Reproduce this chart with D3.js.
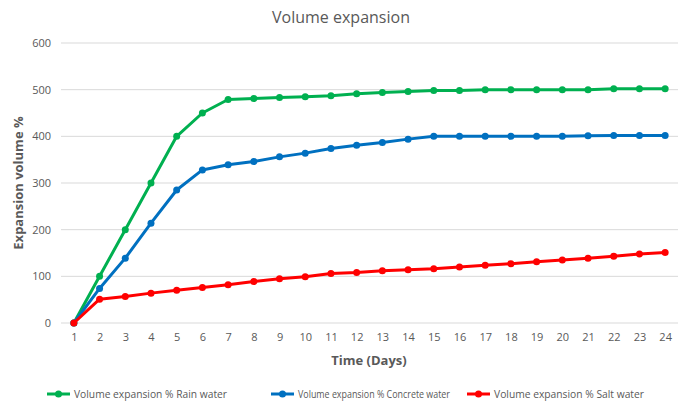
<!DOCTYPE html>
<html><head><meta charset="utf-8">
<script src="https://cdn.jsdelivr.net/npm/d3@7"></script>
<style>body{margin:0;background:#fff;} svg{display:block;}</style>
</head><body>
<svg id="c" width="681" height="403"></svg>
<script>
const days = d3.range(1, 25);
const rainWater = [0,100,200,300,400,450,479,481,483,485,487,491,494,496,498,498,500,500,500,500,500,502,502,502];
const concreteWater = [0,74,139,214,285,328,339,346,356,364,374,381,387,394,400,400,400,400,400,400,401,402,402,402];
const saltWater = [0,51,57,64,70,76,82,89,95,99,106,108,112,114,116,120,124,127,131,135,139,143,148,151];
const yTicks = [0,100,200,300,400,500,600];
const seriesNames = ["Volume expansion % Rain water","Volume expansion % Concrete water","Volume expansion % Salt water"];
const colors = ["#00B050","#0070C0","#FF0000"];

const svg = d3.select("#c");
const font = "'Open Sans', sans-serif";
const L = 61, R = 678, T = 43, B = 323;
const x = d3.scalePoint().domain(days).range([L, R]).padding(0.5);
const y = d3.scaleLinear().domain([0, 600]).range([B, T]);

svg.append("text").attr("x", 341).attr("y", 23).attr("text-anchor","middle")
  .attr("font-family", font).attr("font-size", 16).attr("fill", "#595959").text("Volume expansion");

// grid
svg.append("g").selectAll("line").data(yTicks).join("line")
  .attr("x1", L).attr("x2", R).attr("y1", d=>y(d)).attr("y2", d=>y(d))
  .attr("stroke", "#d9d9d9").attr("stroke-width", 1);

// y axis
const ya = svg.append("g").attr("transform", `translate(${L},0)`)
  .call(d3.axisLeft(y).tickValues(yTicks).tickSize(0).tickPadding(10));
ya.select(".domain").remove();
ya.selectAll("text").attr("font-family", font).attr("font-size", 11).attr("fill", "#595959");

// x axis
const xa = svg.append("g").attr("transform", `translate(0,${B})`)
  .call(d3.axisBottom(x).tickSize(0).tickPadding(10));
xa.select(".domain").remove();
xa.selectAll("text").attr("font-family", font).attr("font-size", 11).attr("fill", "#595959");

svg.append("text").attr("transform", `translate(23,${(T+B)/2}) rotate(-90)`).attr("text-anchor","middle")
  .attr("font-family", font).attr("font-size", 13).attr("font-weight","bold").attr("fill","#595959")
  .text("Expansion volume %");
svg.append("text").attr("x", 369).attr("y", 365).attr("text-anchor","middle")
  .attr("font-family", font).attr("font-size", 13).attr("font-weight","bold").attr("fill","#595959")
  .text("Time (Days)");

const data = [rainWater, concreteWater, saltWater];
const line = d3.line().x((d,i)=>x(days[i])).y(d=>y(d));
[0,1,2].forEach(k=>{
  const g = svg.append("g");
  g.append("path").datum(data[k]).attr("d", line).attr("fill","none")
    .attr("stroke", colors[k]).attr("stroke-width", 3).attr("stroke-linejoin","round");
  g.selectAll("circle").data(data[k]).join("circle")
    .attr("cx",(d,i)=>x(days[i])).attr("cy", d=>y(d)).attr("r", 3.5).attr("fill", colors[k]);
});

// legend
const legX = [47, 271, 467];
const legW = [153, 152, 150];
const lg = svg.append("g");
seriesNames.forEach((n,k)=>{
  const g = lg.append("g").attr("transform", `translate(${legX[k]},394)`);
  g.append("line").attr("x1",0).attr("x2",23).attr("stroke",colors[k]).attr("stroke-width",3);
  g.append("circle").attr("cx",11.5).attr("r",3.5).attr("fill",colors[k]);
  g.append("text").attr("x",27).attr("y",4).attr("font-family",font).attr("font-size",11)
    .attr("textLength", legW[k]).attr("lengthAdjust","spacingAndGlyphs")
    .attr("fill","#595959").text(n);
});
</script>
</body></html>
